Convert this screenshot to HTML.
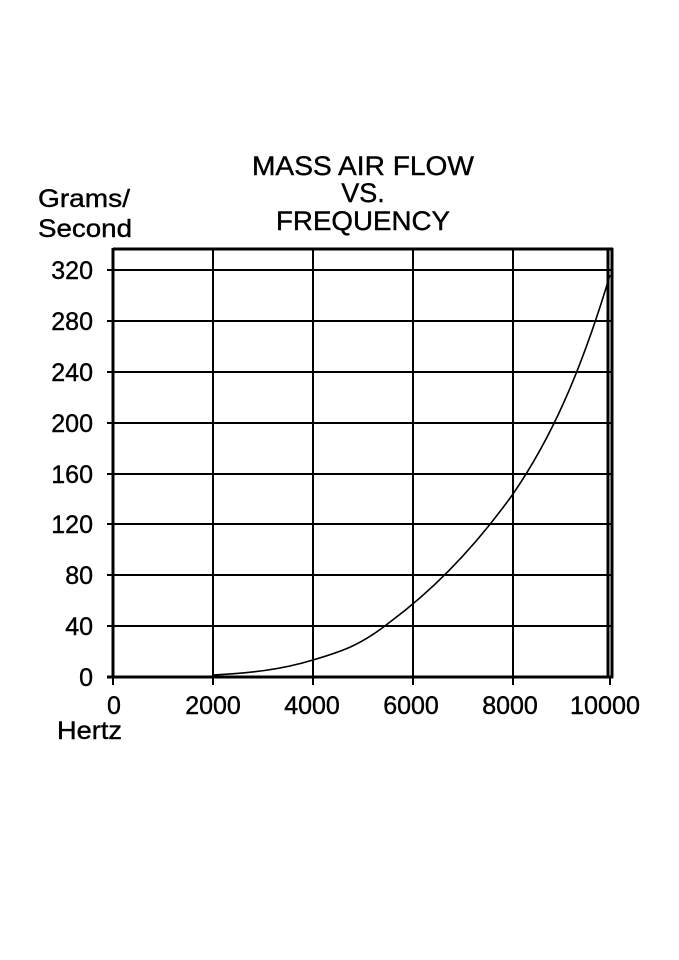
<!DOCTYPE html>
<html><head><style>body{margin:0;background:#fff}svg{display:block}text{font-family:"Liberation Sans",Arial,sans-serif;fill:#000;stroke:#000;stroke-width:0.4}</style></head>
<body>
<svg width="679" height="960" viewBox="0 0 679 960">
<g font-size="27" text-anchor="middle">
<text x="363" y="175" textLength="222" lengthAdjust="spacingAndGlyphs">MASS AIR FLOW</text>
<text x="363" y="202">VS.</text>
<text x="363" y="230" textLength="174" lengthAdjust="spacingAndGlyphs">FREQUENCY</text>
</g>
<g font-size="25">
<text x="38" y="207" textLength="92" lengthAdjust="spacingAndGlyphs">Grams/</text>
<text x="38" y="237" textLength="94" lengthAdjust="spacingAndGlyphs">Second</text>
<text x="57" y="739" textLength="65" lengthAdjust="spacingAndGlyphs">Hertz</text>
</g>
<g stroke="#000" stroke-width="2">
<line x1="213" y1="249" x2="213" y2="677"/>
<line x1="313" y1="249" x2="313" y2="677"/>
<line x1="413" y1="249" x2="413" y2="677"/>
<line x1="513" y1="249" x2="513" y2="677"/>
<line x1="107" y1="270" x2="612" y2="270"/>
<line x1="107" y1="321" x2="612" y2="321"/>
<line x1="107" y1="372" x2="612" y2="372"/>
<line x1="107" y1="423" x2="612" y2="423"/>
<line x1="107" y1="474" x2="612" y2="474"/>
<line x1="107" y1="524" x2="612" y2="524"/>
<line x1="107" y1="575" x2="612" y2="575"/>
<line x1="107" y1="626" x2="612" y2="626"/>
<line x1="113" y1="677" x2="113" y2="685"/>
<line x1="213" y1="677" x2="213" y2="685"/>
<line x1="313" y1="677" x2="313" y2="685"/>
<line x1="413" y1="677" x2="413" y2="685"/>
<line x1="513" y1="677" x2="513" y2="685"/>
<line x1="610" y1="677" x2="610" y2="685"/>
</g>
<g stroke="#000" stroke-width="3" fill="none">
<line x1="113" y1="249" x2="613" y2="249"/>
<line x1="107" y1="677" x2="613" y2="677"/>
<line x1="113" y1="248" x2="113" y2="678"/>
<line x1="608" y1="248" x2="608" y2="678"/>
<line x1="612" y1="248" x2="612" y2="678"/>
</g>
<path d="M213,675 C250,673 280,670 313,660 C340,652 360,646 390,622 C440,585 480,540 513,494 C550,440 580,375 610,275" stroke="#000" stroke-width="1.6" fill="none"/>
<g font-size="25" text-anchor="end">
<text x="93" y="279">320</text>
<text x="93" y="330">280</text>
<text x="93" y="381">240</text>
<text x="93" y="432">200</text>
<text x="93" y="483">160</text>
<text x="93" y="533">120</text>
<text x="93" y="584">80</text>
<text x="93" y="635">40</text>
<text x="93" y="686">0</text>
</g>
<g font-size="25" text-anchor="middle">
<text x="114" y="714">0</text>
<text x="213" y="714">2000</text>
<text x="312" y="714">4000</text>
<text x="411" y="714">6000</text>
<text x="510" y="714">8000</text>
<text x="605" y="714" textLength="70" lengthAdjust="spacingAndGlyphs">10000</text>
</g>
</svg>
</body></html>
